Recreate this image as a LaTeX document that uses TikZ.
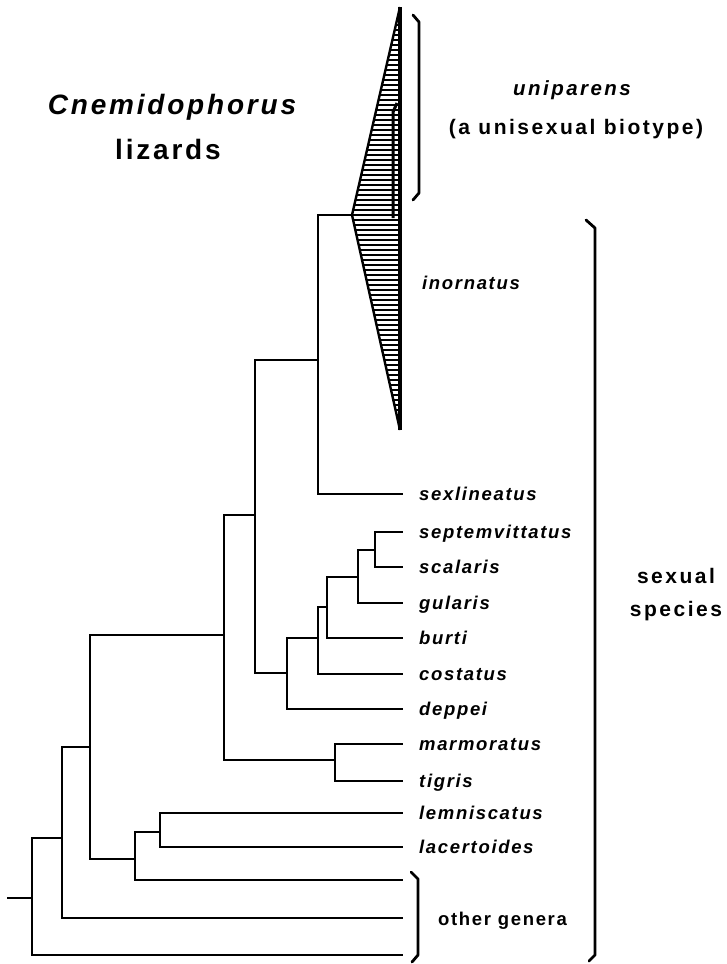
\documentclass[tikz,border=0pt]{standalone}
\usepackage{fontspec}
\setmainfont{Liberation Sans}
\newfontfamily\labfont[LetterSpace=9]{Liberation Sans}
\newfontfamily\bigfont[LetterSpace=12]{Liberation Sans}
\newfontfamily\titlefont[LetterSpace=10]{Liberation Sans}
\begin{document}
\begin{tikzpicture}[x=1pt,y=-1pt,
  branch/.style={line width=2.1pt, line cap=rect},
  leaf/.style={anchor=base west, inner sep=0pt, font=\labfont\bfseries\itshape\fontsize{18.5}{20}\selectfont},
  plainlab/.style={anchor=base, inner sep=0pt, font=\bigfont\bfseries\fontsize{21}{22}\selectfont},
  titlelab/.style={anchor=base, inner sep=0pt, font=\titlefont\bfseries\fontsize{28}{30}\selectfont},
  bracketline/.style={line width=2.8pt, line cap=round, line join=round},
  triline/.style={line width=2.4pt, line join=miter},
  hatch/.style={line width=2.3pt}]
\useasboundingbox (0,0) rectangle (726,964);
\fill[white] (0,0) rectangle (726,964);

% internal nodes
\coordinate (stub) at (8,898);
\coordinate (root) at (32,898);
\coordinate (A) at (62,838);
\coordinate (B) at (90,747);
\coordinate (C) at (135,859);
\coordinate (D) at (160,832);
\coordinate (E) at (224,635);
\coordinate (F) at (335,760);
\coordinate (G) at (255,515);
\coordinate (H) at (287,673);
\coordinate (I) at (318,360);
\coordinate (J) at (318,638);
\coordinate (K) at (327,607);
\coordinate (L) at (358,577);
\coordinate (M) at (375,550);
% triangle
\coordinate (apex) at (352,215);
\coordinate (ttop) at (400,7);
\coordinate (tbot) at (400,430);
% tips
\coordinate (tsexl) at (402,494);
\coordinate (tsept) at (402,532);
\coordinate (tscal) at (402,567);
\coordinate (tgula) at (402,603);
\coordinate (tburt) at (402,638);
\coordinate (tcost) at (402,674);
\coordinate (tdepp) at (402,709);
\coordinate (tmarm) at (402,744);
\coordinate (ttigr) at (402,781);
\coordinate (tlemn) at (402,813);
\coordinate (tlace) at (402,847);
\coordinate (tog1) at (402,880);
\coordinate (tog2) at (402,918);
\coordinate (tog3) at (402,955);

% hatched triangle
\begin{scope}
  \clip (ttop) -- (apex) -- (tbot) -- cycle;
  \foreach \yy in {10,15,...,430} {
    \draw[hatch] (345,\yy) -- (405,\yy);
  }
\end{scope}
\draw[triline] (ttop) -- (apex) -- (tbot);
\draw[line width=3.2pt] (ttop) -- (tbot);
\coordinate (inA) at (393,218);
\coordinate (inB) at (393,112);
\coordinate (inC) at (397,103);
\draw[line width=3pt] (inA) -- (inB) -- (inC);

% branches
\draw[branch] (stub) -- (root);
\draw[branch] (root) |- (A);
\draw[branch] (root) |- (tog3);
\draw[branch] (A) |- (B);
\draw[branch] (A) |- (tog2);
\draw[branch] (B) |- (E);
\draw[branch] (B) |- (C);
\draw[branch] (C) |- (D);
\draw[branch] (C) |- (tog1);
\draw[branch] (D) |- (tlemn);
\draw[branch] (D) |- (tlace);
\draw[branch] (E) |- (G);
\draw[branch] (E) |- (F);
\draw[branch] (F) |- (tmarm);
\draw[branch] (F) |- (ttigr);
\draw[branch] (G) |- (I);
\draw[branch] (G) |- (H);
\draw[branch] (I) |- (apex);
\draw[branch] (I) |- (tsexl);
\draw[branch] (H) |- (J);
\draw[branch] (H) |- (tdepp);
\draw[branch] (J) |- (K);
\draw[branch] (J) |- (tcost);
\draw[branch] (K) |- (L);
\draw[branch] (K) |- (tburt);
\draw[branch] (L) |- (M);
\draw[branch] (L) |- (tgula);
\draw[branch] (M) |- (tsept);
\draw[branch] (M) |- (tscal);

% leaf labels
\node[leaf] (lsexl) at (419,500.5) {sexlineatus};
\node[leaf] (lsept) at (419,538.5) {septemvittatus};
\node[leaf] (lscal) at (419,573.5) {scalaris};
\node[leaf] (lgula) at (419,609.5) {gularis};
\node[leaf] (lburt) at (419,644.5) {burti};
\node[leaf] (lcost) at (419,680.5) {costatus};
\node[leaf] (ldepp) at (419,715.5) {deppei};
\node[leaf] (lmarm) at (419,750.5) {marmoratus};
\node[leaf] (ltigr) at (419,787.5) {tigris};
\node[leaf] (llemn) at (419,819.5) {lemniscatus};
\node[leaf] (llace) at (419,853.5) {lacertoides};
\node[leaf] (linor) at (422,289) {inornatus};
\node[leaf, font=\labfont\bfseries\fontsize{18.5}{20}\selectfont] (loth) at (438,925) {other genera};

% upper right labels
\node[plainlab, font=\bigfont\bfseries\itshape\fontsize{20.5}{22}\selectfont] (luni) at (572,95) {uniparens};
\node[plainlab] (lbio) at (576,134) {(a unisexual biotype)};
\node[plainlab] (lsex) at (676,583) {sexual};
\node[plainlab] (lspe) at (676,616) {species};

% title
\node[titlelab, font=\titlefont\bfseries\itshape\fontsize{28}{30}\selectfont] (t1) at (172,114) {Cnemidophorus};
\node[titlelab] (t2) at (168,159) {lizards};

% brackets
\coordinate (ub1) at (413,15);
\coordinate (ub2) at (419,22);
\coordinate (ub3) at (419,193);
\coordinate (ub4) at (413,200);
\draw[bracketline] (ub1) -- (ub2) -- (ub3) -- (ub4);
\coordinate (sb1) at (586,220);
\coordinate (sb2) at (595,228);
\coordinate (sb3) at (595,955);
\coordinate (sb4) at (589,961);
\draw[bracketline] (sb1) -- (sb2) -- (sb3) -- (sb4);
\coordinate (ob1) at (411,872);
\coordinate (ob2) at (418,879);
\coordinate (ob3) at (418,955);
\coordinate (ob4) at (412,962);
\draw[bracketline] (ob1) -- (ob2) -- (ob3) -- (ob4);
\end{tikzpicture}
\end{document}
